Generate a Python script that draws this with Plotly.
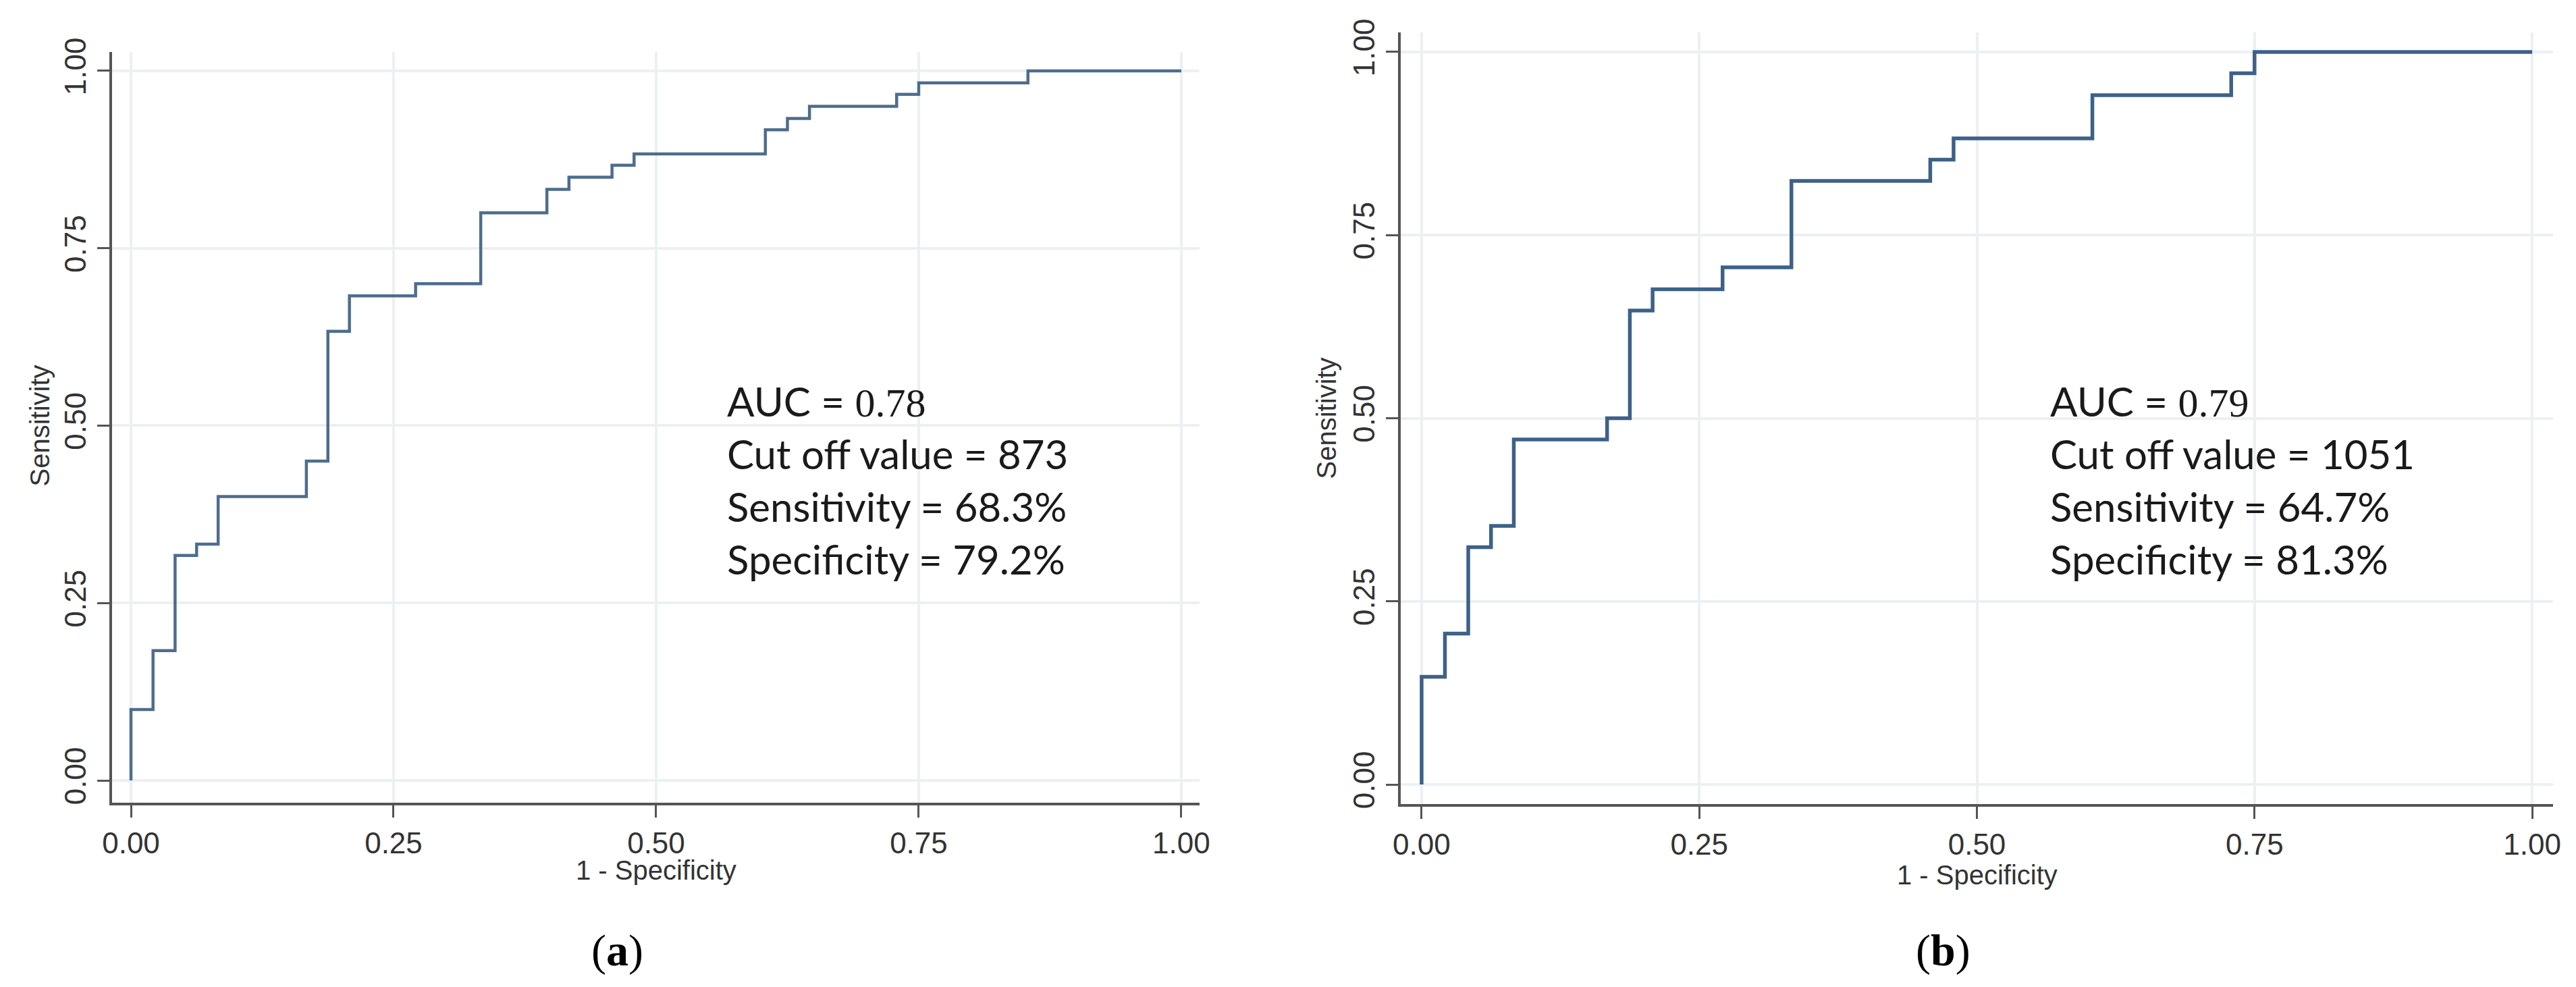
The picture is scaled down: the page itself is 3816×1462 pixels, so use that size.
import plotly.graph_objects as go

# ---------------- data ----------------
# Panel (a): ROC steps (1 - specificity, sensitivity)
fpr_a = [0.0, 0.0, 0.021, 0.021, 0.042, 0.042, 0.0625, 0.0625, 0.083, 0.083,
         0.167, 0.167, 0.1875, 0.1875, 0.208, 0.208, 0.271, 0.271, 0.333, 0.333,
         0.396, 0.396, 0.417, 0.417, 0.458, 0.458, 0.479, 0.479, 0.604, 0.604,
         0.625, 0.625, 0.646, 0.646, 0.729, 0.729, 0.75, 0.75, 0.854, 0.854, 1.0]
tpr_a = [0.0, 0.10, 0.10, 0.183, 0.183, 0.317, 0.317, 0.333, 0.333, 0.40,
         0.40, 0.45, 0.45, 0.633, 0.633, 0.683, 0.683, 0.70, 0.70, 0.80,
         0.80, 0.833, 0.833, 0.85, 0.85, 0.867, 0.867, 0.883, 0.883, 0.917,
         0.917, 0.933, 0.933, 0.95, 0.95, 0.967, 0.967, 0.983, 0.983, 1.0, 1.0]

# Panel (b)
fpr_b = [0.0, 0.0, 0.021, 0.021, 0.042, 0.042, 0.0625, 0.0625, 0.083, 0.083,
         0.167, 0.167, 0.1875, 0.1875, 0.208, 0.208, 0.271, 0.271, 0.333, 0.333,
         0.458, 0.458, 0.479, 0.479, 0.604, 0.604, 0.729, 0.729, 0.75, 0.75, 1.0]
tpr_b = [0.0, 0.147, 0.147, 0.206, 0.206, 0.324, 0.324, 0.353, 0.353, 0.471,
         0.471, 0.50, 0.50, 0.647, 0.647, 0.676, 0.676, 0.706, 0.706, 0.824,
         0.824, 0.853, 0.853, 0.882, 0.882, 0.941, 0.941, 0.971, 0.971, 1.0, 1.0]

tick_vals = [0.0, 0.25, 0.5, 0.75, 1.0]
tick_text = ["0.00", "0.25", "0.50", "0.75", "1.00"]

stats_a = {"auc": "0.78", "cut": "873", "sens": "68.3%", "spec": "79.2%"}
stats_b = {"auc": "0.79", "cut": "1051", "sens": "64.7%", "spec": "81.3%"}

x_title = "1 - Specificity"
y_title = "Sensitivity"
panel_labels = ["a", "b"]

# ---------------- figure ----------------
W, H = 3816, 1462
fig = go.Figure()

fig.add_trace(go.Scatter(x=fpr_a, y=tpr_a, mode="lines",
                         line=dict(color="#4d6d8e", width=4.5),
                         xaxis="x", yaxis="y", showlegend=False))
fig.add_trace(go.Scatter(x=fpr_b, y=tpr_b, mode="lines",
                         line=dict(color="#3d6188", width=5.5),
                         xaxis="x2", yaxis="y2", showlegend=False))

axis_font = dict(family="Liberation Sans, Arial", size=44, color="#333333")
common = dict(
    tickvals=tick_vals, ticktext=tick_text, ticks="outside", ticklen=18,
    tickwidth=3, tickcolor="#555555", showline=True, linecolor="#555555",
    linewidth=3.5, showgrid=True, gridcolor="#ebf1f3", gridwidth=4,
    zeroline=False, tickfont=axis_font, automargin=False, fixedrange=True,
)

fig.update_layout(
    width=W, height=H, autosize=False,
    margin=dict(l=0, r=0, t=0, b=0),
    paper_bgcolor="white", plot_bgcolor="white",
    xaxis=dict(domain=[158 / W, 1769 / W], range=[-0.018, 1.0174],
               anchor="y", **common),
    yaxis=dict(domain=[1 - 1181 / H, 1 - 69 / H], range=[-0.0314, 1.0266],
               anchor="x", tickangle=-90, **common),
    xaxis2=dict(domain=[2067 / W, 3774 / W], range=[-0.0188, 1.0188],
                anchor="y2", **common),
    yaxis2=dict(domain=[1 - 1183 / H, 1 - 40 / H], range=[-0.0267, 1.0267],
                anchor="x2", tickangle=-90, **common),
)

title_font = dict(family="Liberation Sans, Arial", size=40, color="#333333")
text_font = dict(family="Lato, Open Sans", size=60, color="#1a1a1a")
serif = "Liberation Serif, DejaVu Serif"


def stat_text(s):
    return ("AUC = <span style='font-family:%s'>%s</span><br>"
            "Cut off value = %s<br>Sensitivity = %s<br>Specificity = %s"
            % (serif, s["auc"], s["cut"], s["sens"], s["spec"]))


annos = [
    # axis titles
    dict(text=x_title, x=0.5, xref="x", y=1 - 1281 / H, yref="paper",
         showarrow=False, font=title_font, xanchor="center", yanchor="middle"),
    dict(text=x_title, x=0.5, xref="x2", y=1 - 1288 / H, yref="paper",
         showarrow=False, font=title_font, xanchor="center", yanchor="middle"),
    dict(text=y_title, x=51 / W, xref="paper", y=0.5, yref="y",
         showarrow=False, font=title_font, textangle=-90,
         xanchor="center", yanchor="middle"),
    dict(text=y_title, x=1957 / W, xref="paper", y=0.5, yref="y2",
         showarrow=False, font=title_font, textangle=-90,
         xanchor="center", yanchor="middle"),
    # statistics text
    dict(text=stat_text(stats_a), x=0.566, xref="x", y=0.423, yref="y",
         showarrow=False, font=text_font, align="left",
         xanchor="left", yanchor="middle"),
    dict(text=stat_text(stats_b), x=0.565, xref="x2", y=0.416, yref="y2",
         showarrow=False, font=text_font, align="left",
         xanchor="left", yanchor="middle"),
    # panel labels
    dict(text="(<b>%s</b>)" % panel_labels[0], x=906 / W, xref="paper",
         y=1 - 1400 / H, yref="paper", showarrow=False,
         font=dict(family=serif, size=66, color="#000000"),
         xanchor="center", yanchor="middle"),
    dict(text="(<b>%s</b>)" % panel_labels[1], x=2870 / W, xref="paper",
         y=1 - 1400 / H, yref="paper", showarrow=False,
         font=dict(family=serif, size=66, color="#000000"),
         xanchor="center", yanchor="middle"),
]
fig.update_layout(annotations=annos)

fig.write_html("out.html")
